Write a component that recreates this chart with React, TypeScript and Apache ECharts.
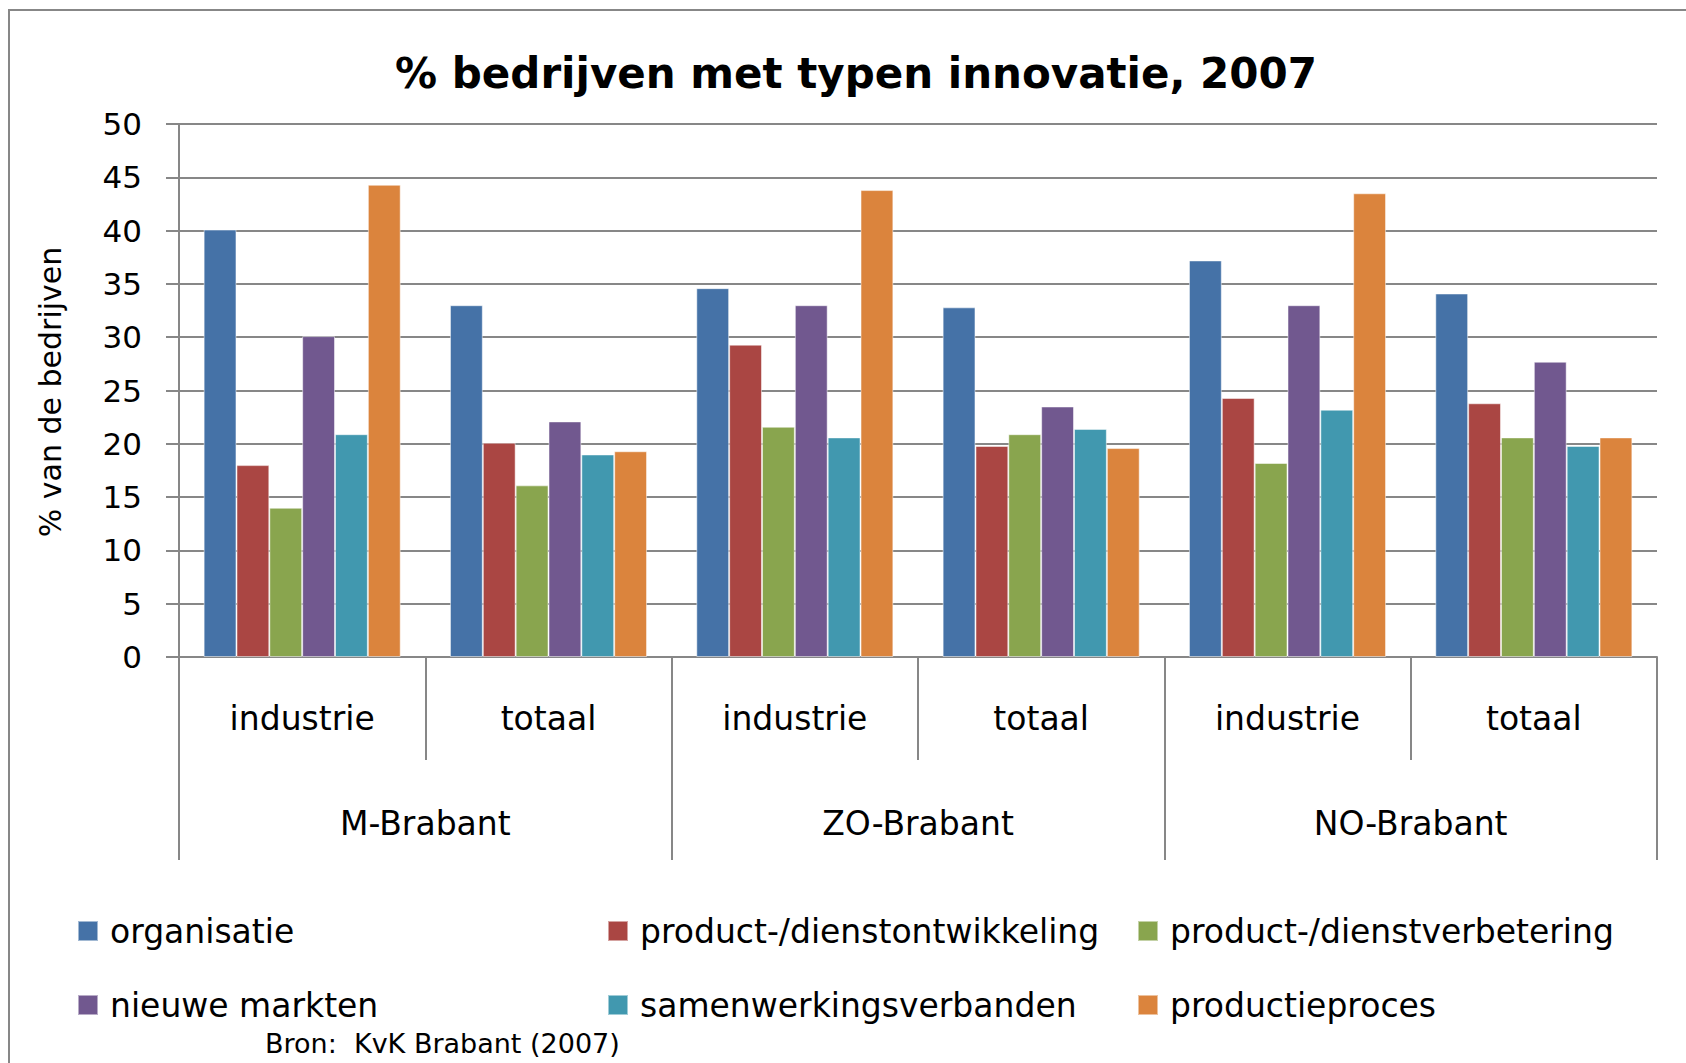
import React, { useEffect, useRef } from "react";
import * as echarts from "echarts";

const categories = ["industrie", "totaal", "industrie", "totaal", "industrie", "totaal"];
const regions = ["M-Brabant", "ZO-Brabant", "NO-Brabant"];
const seriesNames = [
  "organisatie",
  "product-/dienstontwikkeling",
  "product-/dienstverbetering",
  "nieuwe markten",
  "samenwerkingsverbanden",
  "productieproces",
];
const organisatie = [40.1, 33.0, 34.6, 32.8, 37.2, 34.1];
const ontwikkeling = [18.0, 20.1, 29.3, 19.8, 24.3, 23.8];
const verbetering = [14.0, 16.1, 21.6, 20.9, 18.2, 20.6];
const nieuweMarkten = [30.1, 22.1, 33.0, 23.5, 33.0, 27.7];
const samenwerking = [20.9, 19.0, 20.6, 21.4, 23.2, 19.8];
const productieproces = [44.3, 19.3, 43.8, 19.6, 43.5, 20.6];
const seriesValues = [organisatie, ontwikkeling, verbetering, nieuweMarkten, samenwerking, productieproces];
const colors = ["#4572A7", "#AA4643", "#89A54E", "#71588F", "#4198AF", "#DB843D"];
const yTicks = [0, 50, 5];

const FONT = "DejaVu Sans";
const GRAY = "#878787";

export default function App() {
  const ref = useRef<HTMLDivElement>(null);
  useEffect(() => {
    if (!ref.current) return;
    const chart = echarts.init(ref.current, null, { renderer: "svg" });
    const legendPos = [
      [77, 913],
      [607, 913],
      [1137, 913],
      [77, 987],
      [607, 987],
      [1137, 987],
    ];
    chart.setOption({
      animation: false,
      backgroundColor: "#ffffff",
      textStyle: { fontFamily: FONT },
      grid: { left: 179, right: 29, top: 124, bottom: 406, containLabel: false },
      legend: seriesNames.map((n, i) => ({
        data: [n],
        left: legendPos[i][0],
        top: legendPos[i][1],
        padding: 0,
        itemWidth: 20,
        itemHeight: 20,
        icon: "rect",
        textStyle: { fontFamily: FONT, fontSize: 33, color: "#000", lineHeight: 36, padding: [0, 0, 0, 7] },
      })),
      xAxis: [
        {
          type: "category",
          data: categories,
          axisLine: { show: true, lineStyle: { color: GRAY, width: 2 } },
          axisTick: { show: true, length: 103, lineStyle: { color: GRAY, width: 2 } },
          axisLabel: { margin: 43, fontFamily: FONT, fontSize: 33, color: "#000", lineHeight: 36 },
          splitLine: { show: false },
        },
        {
          type: "category",
          data: regions,
          position: "bottom",
          offset: 0,
          axisLine: { show: false },
          axisTick: { show: true, length: 203, lineStyle: { color: GRAY, width: 2 } },
          axisLabel: { margin: 148, fontFamily: FONT, fontSize: 33, color: "#000", lineHeight: 36 },
          splitLine: { show: false },
        },
      ],
      yAxis: {
        type: "value",
        min: yTicks[0],
        max: yTicks[1],
        interval: yTicks[2],
        axisLine: { show: true, lineStyle: { color: GRAY, width: 2 } },
        axisTick: { show: true, length: 13, inside: false, lineStyle: { color: GRAY, width: 2 } },
        axisLabel: { margin: 37, fontFamily: FONT, fontSize: 31, color: "#000" },
        splitLine: { show: true, lineStyle: { color: GRAY, width: 2 } },
      },
      series: seriesNames.map((n, i) => ({
        name: n,
        type: "bar",
        xAxisIndex: 0,
        data: seriesValues[i],
        barGap: "0%",
        barCategoryGap: "20%",
        itemStyle: { color: colors[i], borderColor: "rgba(255,255,255,0.5)", borderWidth: 1 },
      })),
      graphic: [
        {
          type: "rect",
          shape: { x: 9, y: 10, width: 1800, height: 1200 },
          style: { fill: "none", stroke: GRAY, lineWidth: 2 },
          z: -10,
        },
        {
          type: "text",
          x: 856,
          y: 73,
          style: {
            text: "% bedrijven met typen innovatie, 2007",
            font: `bold 42px "${FONT}"`,
            fill: "#000",
            textAlign: "center",
            textVerticalAlign: "middle",
          },
        },
        {
          type: "text",
          x: 50,
          y: 392,
          rotation: Math.PI / 2,
          style: {
            text: "% van de bedrijven",
            font: `30px "${FONT}"`,
            fill: "#000",
            textAlign: "center",
            textVerticalAlign: "middle",
          },
        },
        {
          type: "text",
          x: 265,
          y: 1043,
          style: {
            text: "Bron:  KvK Brabant (2007)",
            font: `27px "${FONT}"`,
            fill: "#000",
            textAlign: "left",
            textVerticalAlign: "middle",
          },
        },
      ],
    });
    return () => chart.dispose();
  }, []);
  return (
    <div
      ref={ref}
      style={{ position: "fixed", left: 0, top: 0, width: 1686, height: 1063 }}
    />
  );
}
